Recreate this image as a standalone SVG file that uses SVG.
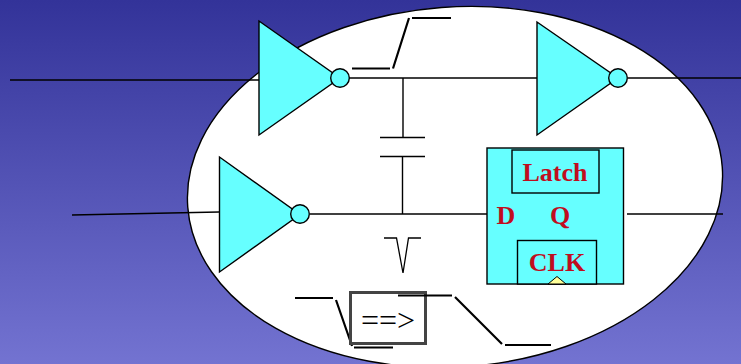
<svg xmlns="http://www.w3.org/2000/svg" width="741" height="364" viewBox="0 0 741 364">
<style>
.w{stroke:#000;stroke-width:1.4;fill:none}
.t{stroke:#000;stroke-width:2.2;fill:none}
.g{fill:#66ffff;stroke:#000;stroke-width:1.4}
.l{font-family:"Liberation Serif",serif;font-weight:bold;font-size:26px;fill:#c00d1e;text-anchor:middle}
</style>
<defs><linearGradient id="bg" x1="0" y1="0" x2="0" y2="1"><stop offset="0" stop-color="#333399"/><stop offset="1" stop-color="#7373d1"/></linearGradient></defs>
<rect width="741" height="364" fill="url(#bg)"/>
<ellipse id="cell" cx="455" cy="187" rx="268" ry="180" transform="rotate(-4.3 455 187)" fill="#fff" stroke="#000" stroke-width="1.4"/>
<g id="connectors">
<path class="w" d="M10 80H259"/>
<path class="w" d="M72 215L219 212"/>
<path class="w" d="M349 78H537"/>
<path class="w" d="M628 78H741"/>
<path class="w" d="M310 214H487"/>
<path class="w" d="M627 214H723"/>
<path class="w" d="M403 78V137M380 137.500H425M380 156.500H425M402.500 156V214"/>
</g>
<g id="inv1"><path class="g" d="M259 21V135L340 78Z"/><circle class="g" cx="340" cy="78" r="9.300"/></g>
<g id="inv2"><path class="g" d="M537 22V135L618 78Z"/><circle class="g" cx="618" cy="78" r="9.300"/></g>
<g id="inv3"><path class="g" d="M219.500 157V272L300 214.500Z"/><circle class="g" cx="300" cy="214" r="9.300"/></g>
<g id="latch">
<rect class="g" x="487" y="148" width="136.500" height="136"/>
<rect class="g" x="512" y="150" width="87" height="43"/>
<rect class="g" x="517.500" y="240.500" width="79" height="43.500"/>
<path d="M548 284L557 276.500L566 284Z" fill="#ffff99" stroke="#000" stroke-width="1"/>
<text class="l" x="555" y="181">Latch</text>
<text class="l" x="506" y="224">D</text>
<text class="l" x="560" y="224">Q</text>
<text class="l" x="557" y="271">CLK</text>
</g>
<g id="rise"><path class="t" d="M352 68.500H390M393 68.500L409 18M412 18H451"/></g>
<g id="glitch"><path d="M384 238H396.500L403 273L408.500 238H421" fill="none" stroke="#000" stroke-width="1.300"/></g>
<g id="fall"><path class="t" d="M295 298H333M336 300L352 346M354 347.500H393"/></g>
<g id="arrow-box">
<rect x="350.500" y="292.500" width="75" height="51" fill="none" stroke="#444" stroke-width="3"/>
<text x="388" y="331" font-family="Liberation Serif,serif" font-size="32" text-anchor="middle" fill="#000">==&gt;</text>
</g>
<g id="fall2"><path class="t" d="M398 295.500H452M455 297L502 344M505 345H551"/></g>
</svg>
